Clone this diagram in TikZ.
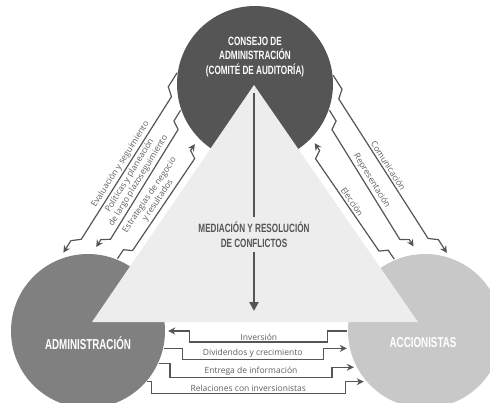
\documentclass[tikz,border=0pt]{standalone}
\usepackage{fontspec}
\setmainfont{Open Sans}
\newfontfamily\headfont[FakeStretch=0.68]{Liberation Sans}
\usepackage{xcolor}
\usetikzlibrary{arrows.meta,calc,positioning}
\definecolor{consgr}{HTML}{555555}
\definecolor{admgr}{HTML}{808080}
\definecolor{accgr}{HTML}{C8C8C8}
\definecolor{trigr}{HTML}{EDEDED}
\definecolor{linegr}{HTML}{555555}
\definecolor{txtgr}{HTML}{5E5E5E}

\begin{document}
\begin{tikzpicture}[x=1pt,y=-1pt,
circ/.style={circle,inner sep=0pt,minimum size=154pt},
head/.style={font=\headfont\bfseries\fontsize{12}{14.5}\selectfont,align=center},
big/.style={font=\headfont\bfseries\fontsize{14.4}{16}\selectfont,text=white},
lbl/.style={font=\fontsize{8.5}{10}\selectfont,text=txtgr,align=center,inner sep=1pt},
slbl/.style={lbl,sloped,midway,above=1pt},
conn/.style={->,draw=linegr,line width=1.2pt,shorten >=3pt,shorten <=1pt},
zig/.style={to path={-- ($(\tikztostart)!.08!(\tikztotarget)$)
  -- ($(\tikztostart)!.11!(\tikztotarget)!8pt!#1:(\tikztotarget)$)
  -- ($(\tikztostart)!.87!(\tikztotarget)!8pt!#1:(\tikztotarget)$) \tikztonodes
  -- ($(\tikztostart)!.9!(\tikztotarget)$)
  -- (\tikztotarget)}},
>={Stealth[length=7pt,width=7pt]}]
\useasboundingbox (0,0) rectangle (490,402);

% circles
\node[circ,minimum size=156pt,fill=consgr] (cons) at (255,84) {};
\node[circ,fill=admgr] (admin) at (88,331) {};
\node[circ,fill=accgr] (acc) at (425,331) {};

% triangle
\coordinate (apex) at (254,85);
\coordinate (baseL) at (92,322);
\coordinate (baseR) at (418,322);
\fill[trigr] (apex) -- (baseL) -- (baseR) -- cycle;

\node[head,text=white] (consLbl) at (255,57) {CONSEJO DE\\ADMINISTRACIÓN\\(COMITÉ DE AUDITORÍA)};
\node[big] (adminLbl) at (88,343) {ADMINISTRACIÓN};
\node[big] (accLbl) at (423,343) {ACCIONISTAS};

% mediation arrow
\node[head,text=consgr,inner sep=5pt] (mediacion) at (254,234.5) {MEDIACIÓN Y RESOLUCIÓN\\DE CONFLICTOS};
\coordinate (medtop) at (254,93);
\coordinate (medtip) at (254,311);
\draw[consgr,line width=2.5pt] (medtop) -- (mediacion);
\draw[consgr,line width=2.5pt,-{Triangle[length=9pt,width=9pt]}] (mediacion) -- (medtip);

% board <-> management
\draw[conn,shorten >=8pt] (cons.171) to[zig=90] node[slbl] (lblEval) {Evaluación y seguimiento} (admin.112);
\draw[conn,shorten >=8pt] (cons.199) to[zig=90] node[slbl] (lblPol) {Políticas y planeación\\de largo plazoseguimiento} (admin.87);
\draw[conn,shorten >=7pt] (admin.68.5) to[zig=-90] node[slbl] (lblEst) {Estrategias de negocio\\y resultados} (cons.224);

% board <-> shareholders
\draw[conn,shorten >=6pt] (cons.7) to[zig=-90] node[slbl] (lblCom) {Comunicación} (acc.71);
\draw[conn,shorten >=9pt] (cons.-19.6) to[zig=-90] node[slbl] (lblRep) {Representación} (acc.95);
\draw[conn,shorten >=6pt] (acc.113) to[zig=90] node[slbl] (lblElec) {Elección} (cons.-44.5);

% management <-> shareholders
\draw[conn] (acc.180) -- ++(-20,0) -- ++(0,11) -- node[lbl,above] (lblInv) {Inversión} ++(-138,0) -- ++(0,-11) -- (admin.0);
\draw[conn] (admin.-13.5) -- ++(19,0) -- ++(0,11) -- node[lbl,above] (lblDiv) {Dividendos y crecimiento} ++(141,0) |- (acc.193.5);
\draw[conn] (admin.-25) -- ++(12,0) -- ++(0,13.5) -- node[lbl,above] (lblEnt) {Entrega de información} ++(162,0) |- (acc.208);
\draw[conn] (admin.-41.5) -- ++(5,0) -- ++(0,12) -- node[lbl,above] (lblRel) {Relaciones con inversionistas} ++(194,0) |- (acc.221.5);
\end{tikzpicture}
\end{document}
